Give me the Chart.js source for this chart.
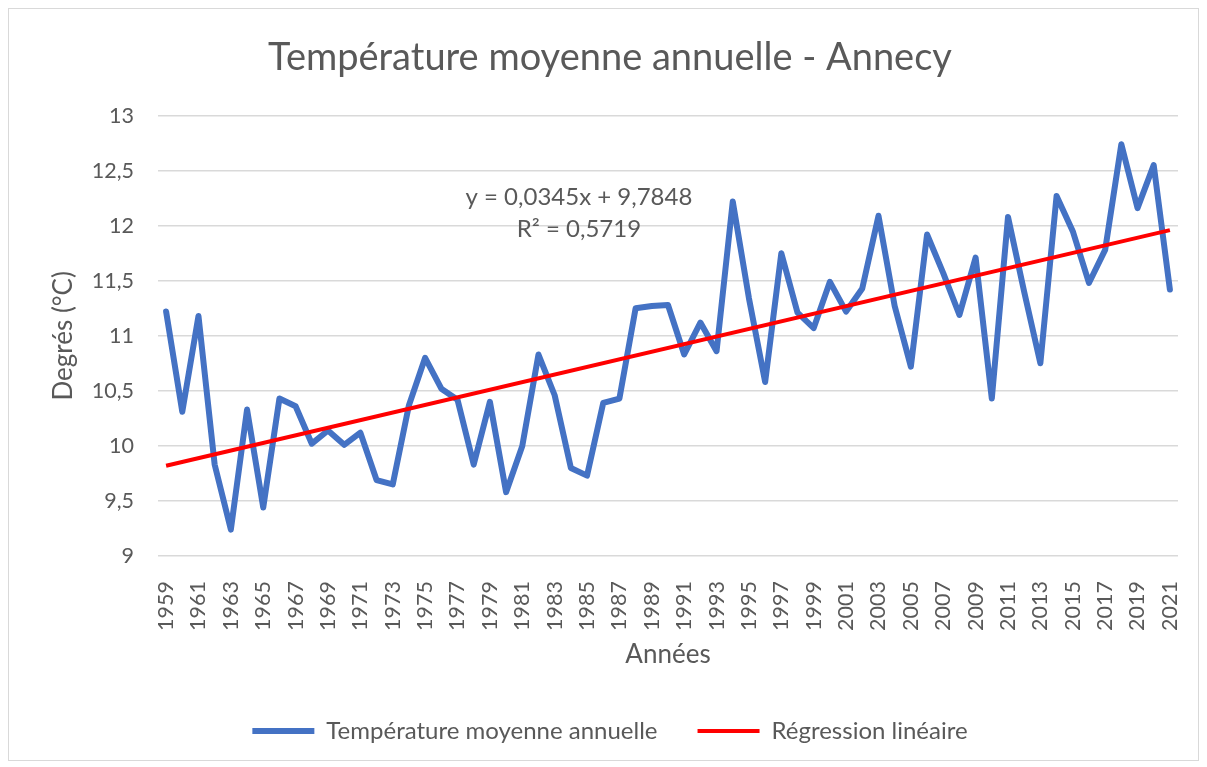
<!DOCTYPE html>
<html lang="fr">
<head>
<meta charset="utf-8">
<title>Température moyenne annuelle - Annecy</title>
<script src="https://cdn.jsdelivr.net/npm/chart.js@4.4.1/dist/chart.umd.min.js"></script>
<style>
  html, body { margin: 0; padding: 0; background: #fff; }
</style>
</head>
<body>
<canvas id="temp-chart" width="1207" height="767"></canvas>
<script>
// Années 1959 - 2021
const years = [
  '1959', '1960', '1961', '1962', '1963', '1964', '1965', '1966', '1967', '1968',
  '1969', '1970', '1971', '1972', '1973', '1974', '1975', '1976', '1977', '1978',
  '1979', '1980', '1981', '1982', '1983', '1984', '1985', '1986', '1987', '1988',
  '1989', '1990', '1991', '1992', '1993', '1994', '1995', '1996', '1997', '1998',
  '1999', '2000', '2001', '2002', '2003', '2004', '2005', '2006', '2007', '2008',
  '2009', '2010', '2011', '2012', '2013', '2014', '2015', '2016', '2017', '2018',
  '2019', '2020', '2021'
];

// température moyenne annuelle (°C)
const temperatures = [
  11.22, 10.31, 11.18, 9.83, 9.24, 10.33, 9.44, 10.43, 10.36, 10.02,
  10.14, 10.01, 10.12, 9.69, 9.65, 10.37, 10.80, 10.52, 10.42, 9.83,
  10.40, 9.58, 10.00, 10.83, 10.46, 9.80, 9.73, 10.39, 10.43, 11.25,
  11.27, 11.28, 10.83, 11.12, 10.86, 12.22, 11.34, 10.58, 11.75, 11.21,
  11.07, 11.49, 11.22, 11.43, 12.09, 11.27, 10.72, 11.92, 11.57, 11.19,
  11.71, 10.43, 12.08, 11.40, 10.75, 12.27, 11.95, 11.48, 11.78, 12.74,
  12.16, 12.55, 11.42
];

// droite de régression : valeurs en 1959 et en 2021
const regressionEnds = [9.82, 11.96];

const yTicks = [9, 9.5, 10, 10.5, 11, 11.5, 12, 12.5, 13];

const equationLines = ['y = 0,0345x + 9,7848', 'R² = 0,5719'];

const textColor = '#595959';
Chart.defaults.font.family = 'Lato, "Open Sans", sans-serif';
Chart.defaults.color = textColor;

const regressionData = years.map((y, i) => {
  if (i === 0) return regressionEnds[0];
  if (i === years.length - 1) return regressionEnds[1];
  return null;
});

const framePlugin = {
  id: 'frame',
  beforeDraw(chart) {
    const ctx = chart.ctx;
    ctx.save();
    ctx.fillStyle = '#ffffff';
    ctx.fillRect(0, 0, chart.width, chart.height);
    ctx.strokeStyle = '#d9d9d9';
    ctx.lineWidth = 1;
    ctx.strokeRect(8.5, 8.5, chart.width - 17, chart.height - 15);
    ctx.restore();
  }
};

// equation de la tendance, placée au milieu du graphique
const equationPlugin = {
  id: 'equation',
  afterDatasetsDraw(chart) {
    const { ctx, scales: { x, y } } = chart;
    ctx.save();
    ctx.font = '24px Lato, "Open Sans", sans-serif';
    ctx.fillStyle = textColor;
    ctx.textAlign = 'center';
    ctx.textBaseline = 'middle';
    const px = x.getPixelForValue(25.5);
    ctx.fillText(equationLines[0], px, y.getPixelForValue(12.26));
    ctx.fillText(equationLines[1], px, y.getPixelForValue(11.97));
    ctx.restore();
  }
};

new Chart(document.getElementById('temp-chart'), {
  type: 'line',
  data: {
    labels: years,
    datasets: [{
      label: 'Température moyenne annuelle',
      data: temperatures,
      borderColor: '#4472C4',
      backgroundColor: '#4472C4',
      borderWidth: 6,
      borderJoinStyle: 'round',
      borderCapStyle: 'round',
      pointRadius: 0,
      tension: 0,
      order: 1
    }, {
      label: 'Régression linéaire',
      data: regressionData,
      borderColor: '#FF0000',
      backgroundColor: '#FF0000',
      borderWidth: 4,
      pointRadius: 0,
      spanGaps: true,
      order: 0
    }]
  },
  options: {
    responsive: false,
    animation: false,
    layout: {
      padding: { left: 42, right: 29, top: 0, bottom: 14 }
    },
    plugins: {
      title: {
        display: true,
        text: 'Température moyenne annuelle - Annecy',
        color: textColor,
        font: { size: 38, weight: 'normal' },
        padding: { top: 35, bottom: 35 }
      },
      legend: {
        position: 'bottom',
        labels: {
          usePointStyle: true,
          pointStyle: 'line',
          pointStyleWidth: 62,
          padding: 40,
          color: textColor,
          font: { size: 24 },
          sort: (a, b) => a.datasetIndex - b.datasetIndex
        }
      },
      tooltip: { enabled: false }
    },
    scales: {
      x: {
        offset: true,
        grid: { display: false },
        border: { display: false },
        ticks: {
          autoSkip: false,
          minRotation: 90,
          maxRotation: 90,
          padding: 17,
          font: { size: 21.5 },
          callback: (value, index) => (index % 2 === 0 ? years[index] : '')
        },
        title: {
          display: true,
          text: 'Années',
          font: { size: 26 },
          padding: { top: 0, bottom: 9 }
        },
        afterFit: (scale) => {
          scale.height = 123;
          scale.paddingLeft = 0;
          scale.paddingRight = 0;
        }
      },
      y: {
        min: yTicks[0],
        max: yTicks[yTicks.length - 1],
        grid: { color: '#d9d9d9', lineWidth: 1.5, drawTicks: false },
        border: { display: false },
        ticks: {
          stepSize: 0.5,
          padding: 24,
          font: { size: 21.5 },
          callback: (value) => String(value).replace('.', ',')
        },
        title: {
          display: true,
          text: 'Degrés (°C)',
          font: { size: 26 },
          padding: { top: 6, bottom: 0 }
        },
        afterFit: (scale) => { scale.width = 116; }
      }
    }
  },
  plugins: [framePlugin, equationPlugin]
});
</script>
</body>
</html>
